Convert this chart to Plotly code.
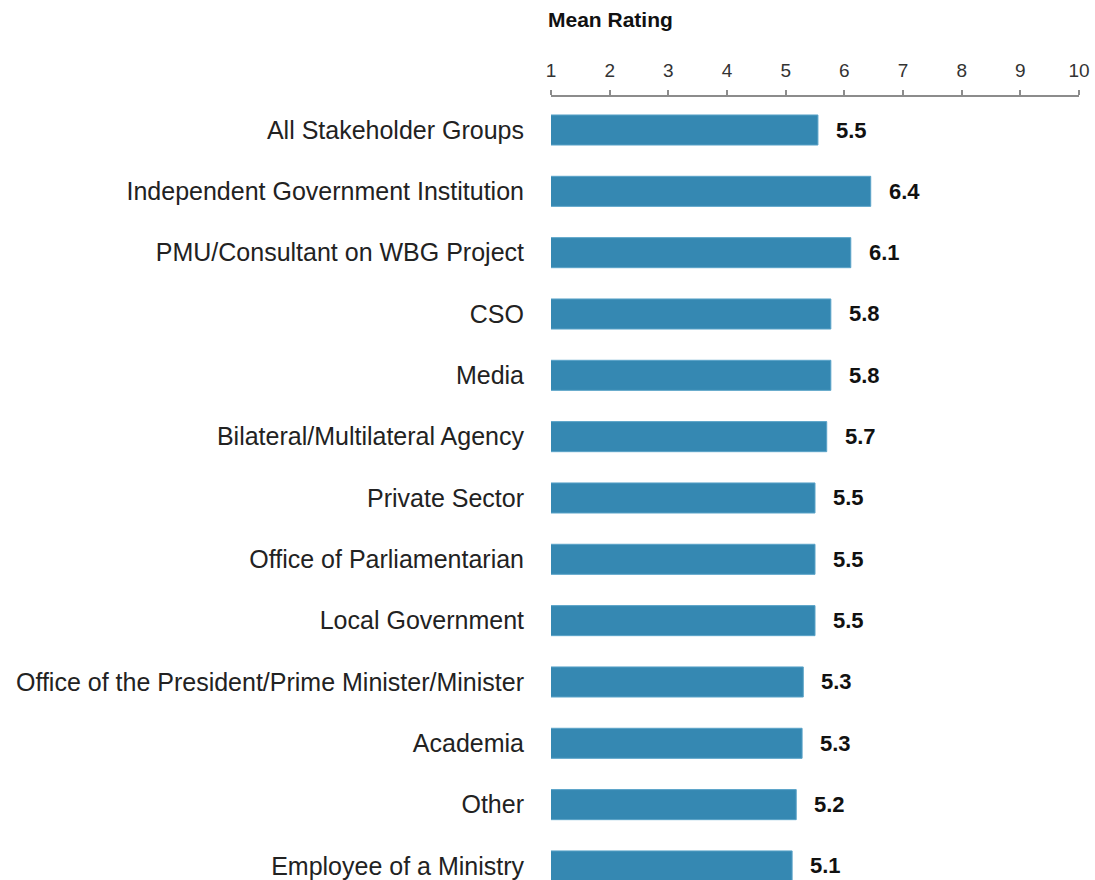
import plotly.graph_objects as go

categories = [
    "All Stakeholder Groups",
    "Independent Government Institution",
    "PMU/Consultant on WBG Project",
    "CSO",
    "Media",
    "Bilateral/Multilateral Agency",
    "Private Sector",
    "Office of Parliamentarian",
    "Local Government",
    "Office of the President/Prime Minister/Minister",
    "Academia",
    "Other",
    "Employee of a Ministry",
]
values = [5.55, 6.45, 6.11, 5.77, 5.77, 5.70, 5.50, 5.50, 5.50, 5.30, 5.28, 5.18, 5.11]
value_labels = ["5.5", "6.4", "6.1", "5.8", "5.8", "5.7", "5.5", "5.5", "5.5", "5.3", "5.3", "5.2", "5.1"]
tick_vals = [1, 2, 3, 4, 5, 6, 7, 8, 9, 10]

FONT = "Liberation Sans"
BAR_COLOR = "#3588B2"

W, H = 1095, 880
TOP = 97
PLOT_H = H - TOP
ROW = 61.33  # px per category row in reference
first_center = 130 - TOP  # px from plot top to first bar center
top_r = -first_center / ROW
bot_r = top_r + PLOT_H / ROW

fig = go.Figure()
fig.add_trace(go.Bar(
    x=values,
    y=categories,
    orientation="h",
    marker=dict(color=BAR_COLOR, line=dict(color="#5AA3C8", width=1)),
    width=0.49,
    hoverinfo="skip",
))

for cat, v, lab in zip(categories, values, value_labels):
    fig.add_annotation(
        x=v, y=cat, xref="x", yref="y", text="<b>%s</b>" % lab,
        showarrow=False, xanchor="left", yanchor="middle", xshift=16,
        font=dict(family=FONT, size=22, color="#111111"),
    )

fig.add_annotation(
    x=1, y=1 + (TOP - 20) / PLOT_H, xref="x", yref="paper",
    text="<b>Mean Rating</b>",
    showarrow=False, xanchor="left", yanchor="middle", xshift=-5,
    font=dict(family=FONT, size=21, color="#111111"),
)

fig.update_layout(
    width=W, height=H,
    margin=dict(l=551, r=16, t=TOP, b=0),
    paper_bgcolor="white", plot_bgcolor="white",
    showlegend=False,
    xaxis=dict(
        side="top", range=[1, 10], tickvals=tick_vals,
        showgrid=False, zeroline=False,
        showline=True, linecolor="#8C8C8C", linewidth=2,
        ticks="outside", ticklen=5, tickwidth=2, tickcolor="#8C8C8C",
        ticklabelstandoff=5,
        tickfont=dict(family=FONT, size=19, color="#333333"),
    ),
    yaxis=dict(
        categoryorder="array", categoryarray=categories,
        range=[bot_r, top_r],
        showgrid=False, zeroline=False, showline=False, ticks="",
        ticklabelstandoff=26,
        tickfont=dict(family=FONT, size=25, color="#222222"),
    ),
)

fig.write_html(
    "out.html",
    config={"displayModeBar": False, "staticPlot": True},
    post_script="document.body.style.margin='0';document.body.style.overflow='hidden';",
)
